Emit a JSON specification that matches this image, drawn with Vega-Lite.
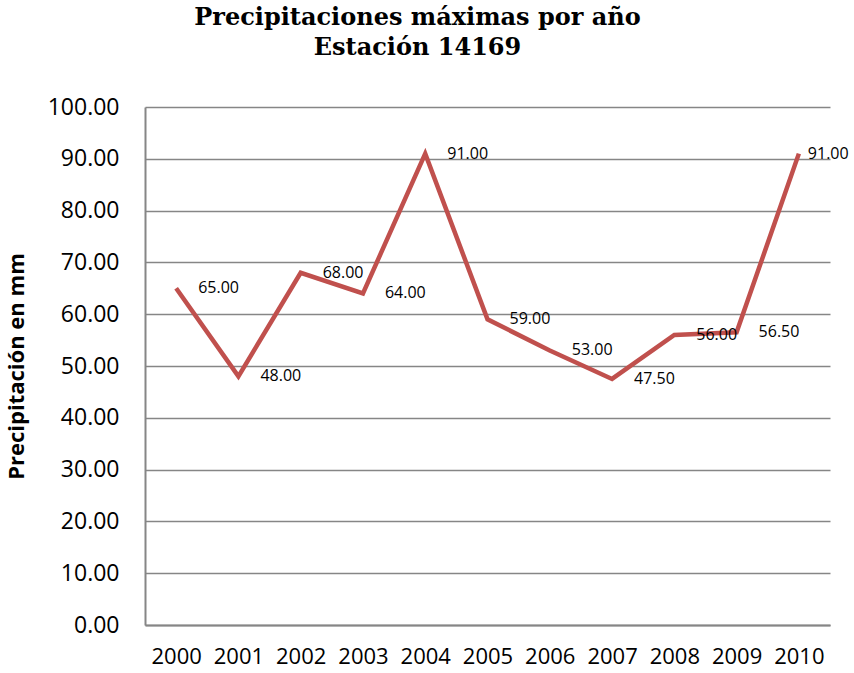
{
  "$schema": "https://vega.github.io/schema/vega-lite/v6.json",
  "width": 685,
  "height": 518,
  "autosize": {"type": "none"},
  "padding": {"left": 145, "top": 107, "right": 24, "bottom": 48},
  "background": "white",
  "title": {
    "text": ["Precipitaciones máximas por año", "Estación 14169"],
    "font": "DejaVu Serif",
    "fontSize": 24,
    "fontWeight": "bold",
    "color": "#000000",
    "lineHeight": 30,
    "anchor": "middle",
    "offset": 36,
    "dx": -70
  },
  "data": {
    "values": [
      {"year": "2000", "mm": 65.0},
      {"year": "2001", "mm": 48.0},
      {"year": "2002", "mm": 68.0},
      {"year": "2003", "mm": 64.0},
      {"year": "2004", "mm": 91.0},
      {"year": "2005", "mm": 59.0},
      {"year": "2006", "mm": 53.0},
      {"year": "2007", "mm": 47.5},
      {"year": "2008", "mm": 56.0},
      {"year": "2009", "mm": 56.5},
      {"year": "2010", "mm": 91.0}
    ]
  },
  "config": {
    "view": {"stroke": null},
    "font": "Open Sans"
  },
  "encoding": {
    "x": {
      "field": "year",
      "type": "ordinal",
      "scale": {"type": "point", "padding": 0.5},
      "axis": {
        "title": null,
        "labelAngle": 0,
        "labelFont": "Open Sans",
        "labelFontSize": 22,
        "labelColor": "#000000",
        "labelPadding": 21,
        "ticks": false,
        "domain": true,
        "domainColor": "#868686",
        "domainWidth": 2,
        "grid": false
      }
    },
    "y": {
      "field": "mm",
      "type": "quantitative",
      "scale": {"domain": [0, 100], "nice": false},
      "axis": {
        "title": "Precipitación en mm",
        "titleFont": "Open Sans",
        "titleFontSize": 22,
        "titleFontWeight": "bold",
        "titleColor": "#000000",
        "titlePadding": 19,
        "values": [0, 10, 20, 30, 40, 50, 60, 70, 80, 90, 100],
        "format": ".2f",
        "labelFont": "Open Sans",
        "labelFontSize": 23,
        "labelColor": "#000000",
        "labelPadding": 26,
        "ticks": false,
        "domain": true,
        "domainColor": "#868686",
        "domainWidth": 2,
        "grid": true,
        "gridColor": "#868686",
        "gridWidth": 1.5
      }
    }
  },
  "layer": [
    {
      "mark": {"type": "line", "color": "#C0504D", "strokeWidth": 4.5, "strokeJoin": "miter"}
    },
    {
      "transform": [{"filter": "datum.year != '2010'"}],
      "mark": {"type": "text", "align": "left", "baseline": "middle", "dx": 22, "fontSize": 16, "font": "Open Sans", "color": "#000000"},
      "encoding": {
        "text": {"field": "mm", "type": "quantitative", "format": ".2f"}
      }
    },
    {
      "transform": [{"filter": "datum.year == '2010'"}],
      "mark": {"type": "text", "align": "left", "baseline": "middle", "dx": 9, "fontSize": 16, "font": "Open Sans", "color": "#000000"},
      "encoding": {
        "text": {"field": "mm", "type": "quantitative", "format": ".2f"}
      }
    }
  ]
}
